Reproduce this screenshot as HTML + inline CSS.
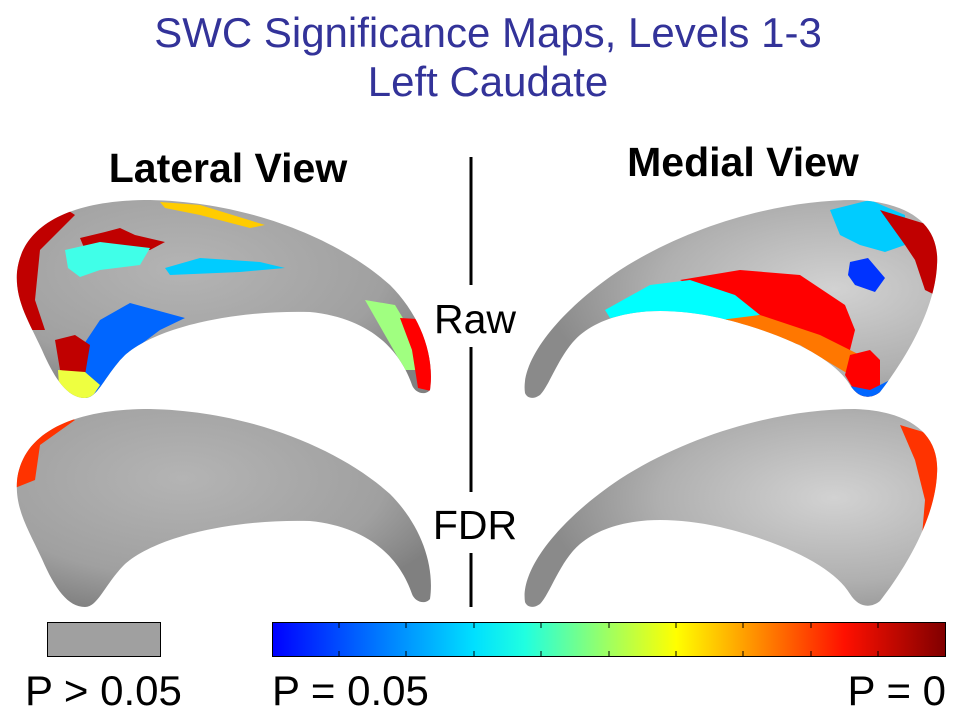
<!DOCTYPE html>
<html><head><style>
body{margin:0;width:960px;height:720px;background:#fff;overflow:hidden;font-family:"Liberation Sans",sans-serif}
</style></head><body>
<svg width="960" height="720" xmlns="http://www.w3.org/2000/svg">
<defs>
<linearGradient id="jet" x1="0" x2="1">
<stop offset="0" stop-color="#0000ff"/><stop offset="0.125" stop-color="#0060ff"/><stop offset="0.3" stop-color="#00e0ff"/><stop offset="0.375" stop-color="#20ffe0"/><stop offset="0.5" stop-color="#a0ff60"/><stop offset="0.6" stop-color="#ffff00"/><stop offset="0.7" stop-color="#ffa000"/><stop offset="0.85" stop-color="#ff1000"/><stop offset="1" stop-color="#800000"/>
</linearGradient>
<radialGradient id="gl" cx="0.4" cy="0.35" r="0.7"><stop offset="0" stop-color="#b4b4b4"/><stop offset="0.7" stop-color="#a0a0a0"/><stop offset="1" stop-color="#808080"/></radialGradient>
<radialGradient id="gr" cx="0.75" cy="0.45" r="0.7"><stop offset="0" stop-color="#d2d2d2"/><stop offset="0.6" stop-color="#b0b0b0"/><stop offset="1" stop-color="#8a8a8a"/></radialGradient>
<path id="L" d="M17,272 C22,225 70,200 150,200 C250,202 340,240 390,285 C420,315 435,355 430,390 C425,396 415,393 412,385 C400,350 370,318 310,312 C240,310 160,325 125,355 C105,375 98,398 85,398 C68,398 55,380 42,350 C28,320 15,300 17,272 Z"/>
<path id="R" d="M525,393 C520,360 560,310 620,270 C690,225 780,200 855,200 C910,202 940,225 937,265 C935,310 905,360 880,392 C870,400 858,398 850,385 C835,360 790,335 720,318 C660,305 610,310 580,335 C560,352 550,385 540,395 C533,400 527,398 525,393 Z"/>
<clipPath id="cL"><use href="#L"/></clipPath>
<clipPath id="cR"><use href="#R"/></clipPath>
<clipPath id="cL2"><use href="#L" transform="translate(0,209)"/></clipPath>
<clipPath id="cR2"><use href="#R" transform="translate(0,209)"/></clipPath>
</defs>
<g fill="#333399" font-size="42" text-anchor="middle">
<text x="488" y="47">SWC Significance Maps, Levels 1-3</text>
<text x="488" y="96">Left Caudate</text>
</g>
<g font-weight="bold" font-size="41" text-anchor="middle" fill="#000">
<text x="228" y="182">Lateral View</text>
<text x="743" y="176">Medial View</text>
</g>
<g stroke="#000" stroke-width="3">
<line x1="471" y1="157" x2="471" y2="285"/><line x1="471" y1="347" x2="471" y2="492"/><line x1="471" y1="553" x2="471" y2="607"/>
</g>
<g font-size="41" text-anchor="middle"><text x="475" y="333">Raw</text><text x="475" y="539">FDR</text></g>
<use href="#L" fill="url(#gl)"/>
<g clip-path="url(#cL)">
<path d="M10,240 L60,205 L75,215 L40,250 L35,300 L45,330 L10,330Z" fill="#c00000"/>
<path d="M80,238 L105,232 L120,228 L135,235 L165,242 L150,250 L110,252 L85,250Z" fill="#c00000"/>
<path d="M65,250 L100,242 L150,248 L140,265 L100,270 L80,277 L68,268Z" fill="#40ffe8"/>
<path d="M165,268 L200,258 L260,262 L285,268 L240,272 L170,275Z" fill="#00ccff"/>
<path d="M160,202 L200,205 L265,225 L250,228 L200,215 L165,208Z" fill="#ffcc00"/>
<path d="M80,350 L100,320 L130,303 L185,318 L160,330 L120,360 L95,398 L85,398Z" fill="#0066ff"/>
<path d="M55,340 L75,335 L90,345 L85,375 L60,370Z" fill="#c00000"/>
<path d="M58,370 L85,372 L100,385 L90,400 L60,400Z" fill="#eeff40"/>
<path d="M365,300 L395,305 L410,330 L420,370 L405,370 L385,335Z" fill="#a0ff80"/>
<path d="M400,318 L435,320 L435,392 L418,388 L412,350Z" fill="#ff0000"/>
</g>
<use href="#R" fill="url(#gr)"/>
<g clip-path="url(#cR)">
<path d="M830,210 L870,200 L905,215 L905,245 L885,252 L860,245 L840,235Z" fill="#00ccff"/>
<path d="M880,210 L945,230 L945,300 L925,290 L915,260 L905,245Z" fill="#c00000"/>
<path d="M850,262 L868,258 L885,278 L875,292 L855,285 L848,275Z" fill="#0033ff"/>
<path d="M680,280 L740,270 L800,275 L845,305 L855,330 L850,350 L830,350 L800,330 L760,320 L720,300Z" fill="#ff0000"/>
<path d="M605,310 L650,285 L690,280 L735,295 L760,315 L720,322 L650,312 L610,318Z" fill="#00ffff"/>
<path d="M720,320 L760,315 L820,335 L860,355 L860,370 L845,372 L800,345Z" fill="#ff7700"/>
<path d="M850,355 L870,350 L880,360 L880,395 L860,400 L845,375Z" fill="#ff0000"/>
<path d="M845,385 L870,390 L890,380 L885,400 L850,400Z" fill="#0066ff"/>
</g>
<use href="#L" transform="translate(0,209)" fill="url(#gl)"/>
<g clip-path="url(#cL2)"><path d="M10,440 L55,412 L75,420 L40,445 L35,480 L10,490Z" fill="#ff3300"/></g>
<use href="#R" transform="translate(0,209)" fill="url(#gr)"/>
<g clip-path="url(#cR2)"><path d="M900,425 L950,440 L950,570 L920,560 L925,500 L915,460Z" fill="#ff3300"/></g>
<rect x="47.5" y="622.5" width="113" height="34" fill="#a0a0a0" stroke="#000"/>
<rect x="272.5" y="622.5" width="673" height="34" fill="url(#jet)" stroke="#000"/>
<g stroke="#000" stroke-width="1">
<line x1="339" y1="623" x2="339" y2="628"/><line x1="406" y1="623" x2="406" y2="628"/><line x1="474" y1="623" x2="474" y2="628"/><line x1="541" y1="623" x2="541" y2="628"/><line x1="609" y1="623" x2="609" y2="628"/><line x1="676" y1="623" x2="676" y2="628"/><line x1="743" y1="623" x2="743" y2="628"/><line x1="811" y1="623" x2="811" y2="628"/><line x1="878" y1="623" x2="878" y2="628"/>
<line x1="339" y1="651" x2="339" y2="656"/><line x1="406" y1="651" x2="406" y2="656"/><line x1="474" y1="651" x2="474" y2="656"/><line x1="541" y1="651" x2="541" y2="656"/><line x1="609" y1="651" x2="609" y2="656"/><line x1="676" y1="651" x2="676" y2="656"/><line x1="743" y1="651" x2="743" y2="656"/><line x1="811" y1="651" x2="811" y2="656"/><line x1="878" y1="651" x2="878" y2="656"/>
</g>
<g font-size="42" fill="#000">
<text x="25" y="705">P &gt; 0.05</text>
<text x="272" y="705">P = 0.05</text>
<text x="946" y="705" text-anchor="end">P = 0</text>
</g>
</svg>
</body></html>
